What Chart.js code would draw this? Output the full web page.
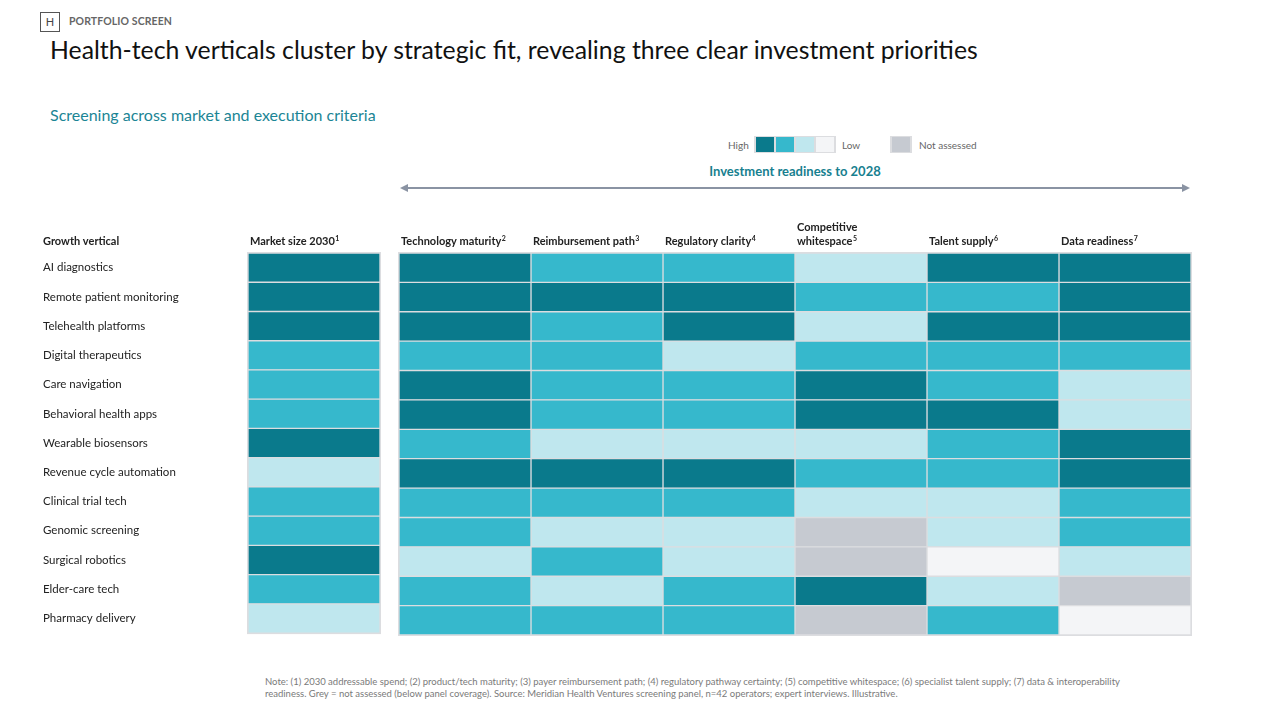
<!DOCTYPE html>
<html>
<head>
<meta charset="utf-8">
<script src="https://cdn.jsdelivr.net/npm/chart.js@4.4.1/dist/chart.umd.min.js"></script>
<style>
  body { margin: 0; width: 1280px; height: 720px; background: #fff; font-family: Lato, "Open Sans", sans-serif; position: relative; overflow: hidden; }
  .abs { position: absolute; white-space: nowrap; }
  #tag { left: 40px; top: 12px; width: 18px; height: 18px; border: 1px solid #555; font-size: 11px; color: #444; text-align: center; line-height: 18px; }
  #kicker { left: 69px; top: 15px; font-size: 10.5px; font-weight: bold; color: #666; letter-spacing: 0.1px; }
  #title { left: 50px; top: 35px; font-size: 24.8px; color: #111; }
  #subtitle { left: 50px; top: 105px; font-size: 16px; color: #1b8595; }
  .lg { font-size: 10px; color: #666; top: 139px; }
  .swframe { top: 136px; height: 17px; background: #dcdde0; }
  .sw { position: absolute; top: 1px; width: 18px; height: 15px; }
  #readiness { left: 640px; width: 310px; text-align: center; top: 163px; font-size: 13px; font-weight: bold; color: #17808f; }
  #arrow { left: 398px; top: 181px; }
  #note { left: 265px; top: 676px; font-size: 9.5px; line-height: 12px; color: #7a7a7a; white-space: normal; width: 860px; }
  canvas { position: absolute; }
</style>
</head>
<body>
<div id="tag" class="abs">H</div>
<div id="kicker" class="abs">PORTFOLIO SCREEN</div>
<div id="title" class="abs">Health-tech verticals cluster by strategic fit, revealing three clear investment priorities</div>
<div id="subtitle" class="abs">Screening across market and execution criteria</div>

<div class="abs lg" style="left:728px;">High</div>
<div class="abs swframe" style="left:754px;width:82px;">
  <div class="sw" style="left:2px;background:#0a7a8c"></div>
  <div class="sw" style="left:22px;background:#36b8cc"></div>
  <div class="sw" style="left:42px;background:#bfe7ee"></div>
  <div class="sw" style="left:62px;background:#f4f5f7"></div>
</div>
<div class="abs lg" style="left:842px;">Low</div>
<div class="abs swframe" style="left:890px;width:22px;">
  <div class="sw" style="left:2px;background:#c6cad1"></div>
</div>
<div class="abs lg" style="left:919px;">Not assessed</div>

<div id="readiness" class="abs">Investment readiness to 2028</div>
<svg id="arrow" class="abs" width="796" height="14">
  <line x1="4" y1="7" x2="790" y2="7" stroke="#8a93a3" stroke-width="2"/>
  <polygon points="2,7 10,3 10,11" fill="#8a93a3"/>
  <polygon points="792,7 784,3 784,11" fill="#8a93a3"/>
</svg>

<canvas id="left" width="342" height="425" style="left:43px;top:215px;"></canvas>
<canvas id="right" width="805" height="425" style="left:395px;top:215px;"></canvas>

<div id="note" class="abs">Note: (1) 2030 addressable spend; (2) product/tech maturity; (3) payer reimbursement path; (4) regulatory pathway certainty; (5) competitive whitespace; (6) specialist talent supply; (7) data &amp; interoperability readiness. Grey = not assessed (below panel coverage). Source: Meridian Health Ventures screening panel, n=42 operators; expert interviews. Illustrative.</div>

<script>
// rows
const verticals = [
  "AI diagnostics", "Remote patient monitoring", "Telehealth platforms", "Digital therapeutics",
  "Care navigation", "Behavioral health apps", "Wearable biosensors", "Revenue cycle automation",
  "Clinical trial tech", "Genomic screening", "Surgical robotics", "Elder-care tech", "Pharmacy delivery"
];

// scores: 3 = high ... 0 = low, null = not assessed
const marketSize    = [3, 3, 3, 2, 2, 2, 3, 1, 2, 2, 3, 2, 1];
const techMaturity  = [3, 3, 3, 2, 3, 3, 2, 3, 2, 2, 1, 2, 2];
const reimbursement = [2, 3, 2, 2, 2, 2, 1, 3, 2, 1, 2, 1, 2];
const regulatory    = [2, 3, 3, 1, 2, 2, 1, 3, 2, 1, 1, 2, 2];
const whitespace    = [1, 2, 1, 2, 3, 3, 1, 2, 1, null, null, 3, null];
const talent        = [3, 2, 3, 2, 2, 3, 2, 2, 1, 1, 0, 1, 2];
const dataReadiness = [3, 3, 3, 2, 1, 1, 3, 3, 2, 2, 1, null, 0];

const leftHeaders  = [["Market size 2030", "1"]];
const rightHeaders = [
  ["Technology maturity", "2"], ["Reimbursement path", "3"], ["Regulatory clarity", "4"],
  ["Competitive\nwhitespace", "5"], ["Talent supply", "6"], ["Data readiness", "7"]
];

const scale = { 3: "#0a7a8c", 2: "#36b8cc", 1: "#bfe7ee", 0: "#f4f5f7" };
const notAssessed = "#c6cad1";
const frame = "#dcdde0";
const FONT = "Lato, 'Open Sans', sans-serif";

function cellColor(v) { return v === null ? notAssessed : scale[v]; }

function makeDatasets(columns) {
  return columns.map(function (col, c) {
    return {
      data: col.map(function () { return [c, c + 1]; }),
      backgroundColor: col.map(cellColor),
      borderColor: frame,
      borderWidth: 1,
      borderSkipped: false,
      grouped: false,
      barPercentage: 1,
      categoryPercentage: 1,
    };
  });
}

// grey panel behind the cells + column headers
const panelPlugin = {
  id: "panel",
  beforeDatasetsDraw: function (chart) {
    const a = chart.chartArea, ctx = chart.ctx;
    ctx.save();
    ctx.fillStyle = frame;
    ctx.fillRect(a.left - 1, a.top - 1, a.right - a.left + 2, a.bottom - a.top + 2);
    ctx.restore();
  },
  afterDraw: function (chart, args, opts) {
    const ctx = chart.ctx, x = chart.scales.x, a = chart.chartArea;
    ctx.save();
    ctx.fillStyle = "#222";
    ctx.textBaseline = "alphabetic";
    ctx.textAlign = "left";
    opts.headers.forEach(function (h, c) {
      const lines = h[0].split("\n");
      const left = x.getPixelForValue(c) + 2;
      let base = a.top - 8;
      for (let i = lines.length - 1; i >= 0; i--) {
        ctx.font = "bold 11px " + FONT;
        ctx.fillText(lines[i], left, base);
        if (i === lines.length - 1) {
          const w = ctx.measureText(lines[i]).width;
          ctx.font = "bold 7px " + FONT;
          ctx.fillText(h[1], left + w + 0.5, base - 4);
        }
        base -= 14;
      }
    });
    if (opts.rowTitle) {
      ctx.font = "bold 11px " + FONT;
      ctx.fillText(opts.rowTitle, 0, a.top - 8);
    }
    ctx.restore();
  }
};

function heatmap(id, columns, headers, pad, showRows) {
  return new Chart(document.getElementById(id).getContext("2d"), {
    type: "bar",
    data: { labels: verticals, datasets: makeDatasets(columns) },
    options: {
      indexAxis: "y",
      responsive: false,
      animation: false,
      layout: { padding: pad },
      plugins: {
        legend: { display: false },
        tooltip: { enabled: false },
        panel: { headers: headers, rowTitle: showRows ? "Growth vertical" : null },
      },
      scales: {
        x: { type: "linear", min: 0, max: columns.length, display: false },
        y: {
          display: showRows,
          grid: { display: false },
          border: { display: false },
          ticks: { crossAlign: "far", padding: 0, color: "#222", font: { size: 11.5, family: FONT } },
          afterFit: function (s) { s.width = showRows ? 205 : 0; },
        },
      },
    },
    plugins: [panelPlugin],
  });
}

heatmap("left", [marketSize], leftHeaders, { left: 0, right: 5, top: 38, bottom: 5 }, true);
heatmap("right", [techMaturity, reimbursement, regulatory, whitespace, talent, dataReadiness], rightHeaders,
  { left: 4, right: 9, top: 38, bottom: 5 }, false);
</script>
</body>
</html>
